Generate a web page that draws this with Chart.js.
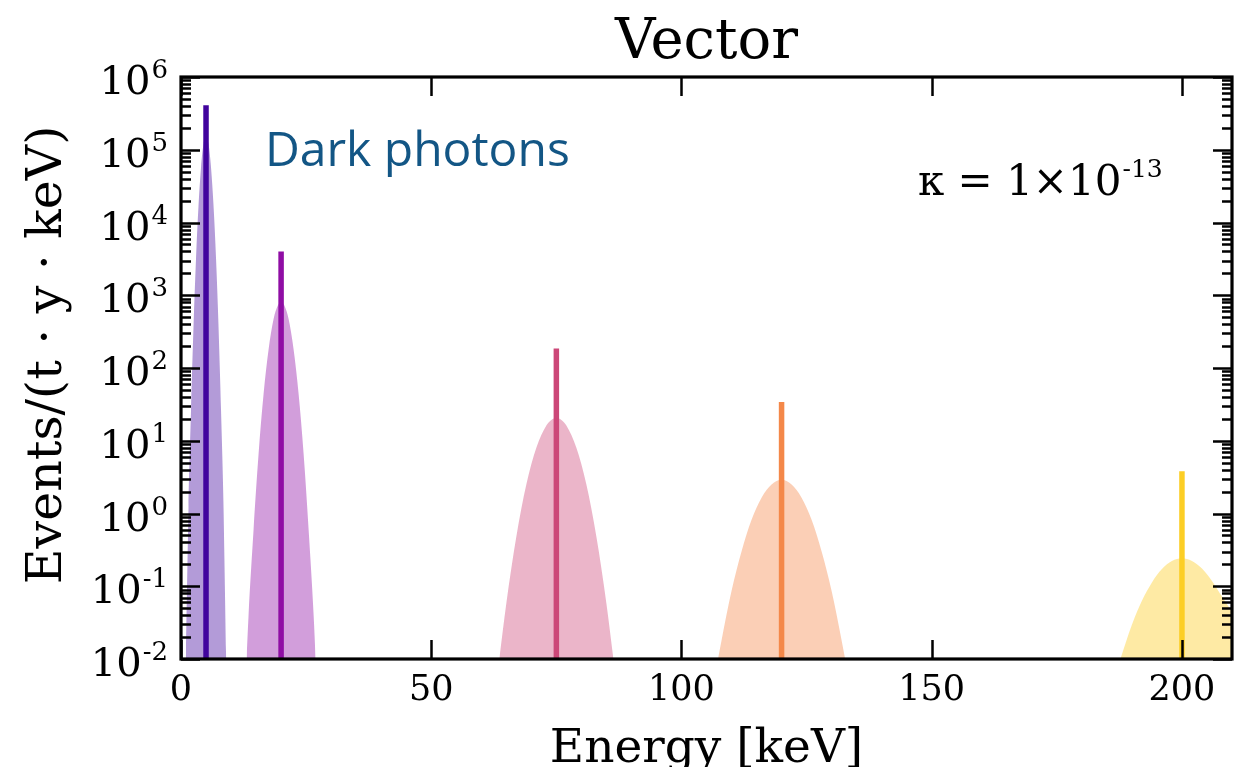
<!DOCTYPE html>
<html>
<head>
<meta charset="utf-8">
<script src="https://cdn.jsdelivr.net/npm/chart.js@4.4.0/dist/chart.umd.min.js"></script>
<style>
  html, body { margin: 0; padding: 0; background: #fff; }
</style>
</head>
<body>
<canvas id="chart" width="1255" height="767"></canvas>
<script>
// line energies (keV) and line heights
const lineEnergies = [5, 20, 75, 120, 200];
const lineHeights = [4.1e5, 4.0e3, 186, 34, 3.8];
const lineColors = ["#41049d", "#8f0da4", "#cc4778", "#f48849", "#fcce25"];
const fillColors = ["rgba(65,4,157,0.4)", "rgba(143,13,164,0.4)", "rgba(204,71,120,0.4)", "rgba(244,136,73,0.4)", "rgba(252,206,37,0.42)"];

// smeared spectra, points
const fillE1 = [0.9, 1.0, 1.5, 2.0, 2.5, 3.0, 3.5, 4.0, 4.5, 5.0, 5.5, 6.0, 6.5, 7.0, 7.5, 8.0, 8.5, 9.0, 9.1];
const fillY1 = [0.005, 0.012, 1.2, 26, 370, 3200, 1.7e4, 5.7e4, 1.2e5, 1.5e5, 1.2e5, 5.7e4, 1.7e4, 3200, 370, 26, 1.2, 0.012, 0.005];
const fillE2 = [13.1, 13.5, 14.5, 15.5, 16.5, 17.5, 18.5, 19.3, 20, 20.7, 21.5, 22.5, 23.5, 24.5, 25.5, 26.5, 26.9];
const fillY2 = [0.01, 0.04, 0.6, 6.6, 44, 180, 470, 710, 800, 710, 470, 180, 44, 6.6, 0.6, 0.04, 0.01];
const fillE3 = [63.6, 65, 67, 69, 71, 73, 74, 75, 76, 77, 79, 81, 83, 85, 86.4];
const fillY3 = [0.01, 0.058, 0.48, 2.5, 8, 16.2, 19.3, 20.5, 19.3, 16.2, 8, 2.5, 0.48, 0.058, 0.01];
const fillE4 = [107.3, 108, 110, 112, 114, 116, 118, 120, 122, 124, 126, 128, 130, 132, 132.7];
const fillY4 = [0.01, 0.018, 0.086, 0.3, 0.82, 1.65, 2.5, 2.9, 2.5, 1.65, 0.82, 0.3, 0.086, 0.018, 0.01];
const fillE5 = [187.7, 190, 192, 194, 196, 198, 200, 202, 204, 206, 208, 210, 212];
const fillY5 = [0.01, 0.0295, 0.063, 0.113, 0.173, 0.222, 0.242, 0.222, 0.175, 0.118, 0.072, 0.045, 0.027];

const xTicks = [0, 50, 100, 150, 200];
const yMajorTicks = [0.01, 0.1, 1, 10, 100, 1e3, 1e4, 1e5, 1e6];
const yTickExps = ["-2", "-1", "0", "1", "2", "3", "4", "5", "6"];

const SERIF = "'DejaVu Serif', serif";

const fillE = [fillE1, fillE2, fillE3, fillE4, fillE5];
const fillY = [fillY1, fillY2, fillY3, fillY4, fillY5];

// minor ticks 2..9 in each decade
const yTicks = [];
yMajorTicks.forEach((v, i) => {
  yTicks.push(v);
  if (i < yMajorTicks.length - 1) {
    for (let k = 2; k <= 9; k++) yTicks.push(v * k);
  }
});

function majorIndex(v) {
  return yMajorTicks.findIndex((m) => Math.abs(m - v) / m < 1e-9);
}

const datasets = [];
fillE.forEach((es, i) => {
  datasets.push({
    type: "line",
    data: es.map((e, j) => ({ x: e, y: fillY[i][j] })),
    borderWidth: 0,
    pointRadius: 0,
    backgroundColor: fillColors[i],
    fill: "start",
    cubicInterpolationMode: "monotone",
    order: 2,
  });
});
lineEnergies.forEach((e, i) => {
  datasets.push({
    type: "line",
    data: [{ x: e, y: yMajorTicks[0] }, { x: e, y: lineHeights[i] }],
    borderColor: lineColors[i],
    borderWidth: 5.5,
    borderCapStyle: "butt",
    pointRadius: 0,
    fill: false,
    order: 1,
  });
});

const frameTicks = {
  id: "frameTicks",
  afterDraw(chart) {
    const { ctx, chartArea } = chart;
    const { left, right, top, bottom } = chartArea;
    const xs = chart.scales.x;
    const ys = chart.scales.y;
    const midX = (left + right) / 2;
    ctx.save();

    // inward ticks on all four sides
    ctx.strokeStyle = "#000";
    ctx.lineWidth = 2.5;
    ctx.beginPath();
    ys.ticks.forEach((t) => {
      const py = Math.round(ys.getPixelForValue(t.value)) + 0.5;
      const len = majorIndex(t.value) >= 0 ? 19 : 10;
      ctx.moveTo(left, py); ctx.lineTo(left + len, py);
      ctx.moveTo(right, py); ctx.lineTo(right - len, py);
    });
    xs.ticks.forEach((t) => {
      const px = Math.round(xs.getPixelForValue(t.value)) + 0.5;
      ctx.moveTo(px, bottom); ctx.lineTo(px, bottom - 19);
      ctx.moveTo(px, top); ctx.lineTo(px, top + 19);
    });
    ctx.stroke();
    ctx.lineWidth = 3.2;
    ctx.strokeRect(left, top, right - left, bottom - top);

    // y tick labels as 10 with a raised exponent
    ctx.fillStyle = "#000";
    ctx.textAlign = "left";
    ctx.textBaseline = "alphabetic";
    ys.ticks.forEach((t) => {
      const i = majorIndex(t.value);
      if (i < 0) return;
      const py = ys.getPixelForValue(t.value);
      ctx.font = "40px " + SERIF;
      const wb = ctx.measureText("10").width;
      ctx.font = "26px " + SERIF;
      const we = ctx.measureText(yTickExps[i]).width;
      const x0 = left - 14 - wb - we;
      ctx.font = "40px " + SERIF;
      ctx.fillText("10", x0, py + 17);
      ctx.font = "26px " + SERIF;
      ctx.fillText(yTickExps[i], x0 + wb + 1, py + 1);
    });

    // title and axis titles
    ctx.textAlign = "center";
    ctx.font = "56px " + SERIF;
    ctx.fillText("Vector", midX, 58);
    ctx.font = "47px " + SERIF;
    ctx.fillText("Energy [keV]", midX, 762);
    ctx.save();
    ctx.translate(61, 355);
    ctx.rotate(-Math.PI / 2);
    ctx.font = "49px " + SERIF;
    ctx.fillText("Events/(t · y · keV)", 0, 0);
    ctx.restore();

    // annotations
    ctx.textAlign = "left";
    ctx.fillStyle = "#135685";
    ctx.font = "48px 'Open Sans', sans-serif";
    ctx.fillText("Dark photons", left + 84, top + 89);

    ctx.fillStyle = "#000";
    ctx.font = "42px " + SERIF;
    const base = "κ = 1×10";
    const bx = left + 737;
    const by = top + 118;
    ctx.fillText(base, bx, by);
    const w = ctx.measureText(base).width;
    ctx.font = "25px " + SERIF;
    ctx.fillText("-13", bx + w + 1, by - 18);
    ctx.restore();
  },
};

new Chart(document.getElementById("chart"), {
  data: { datasets: datasets },
  options: {
    responsive: false,
    animation: false,
    devicePixelRatio: 1,
    layout: { padding: { left: 0, right: 23, top: 77, bottom: 0 } },
    plugins: {
      legend: { display: false },
      tooltip: { enabled: false },
      title: { display: false },
    },
    scales: {
      x: {
        type: "linear",
        min: 0,
        max: 210,
        afterBuildTicks: (s) => { s.ticks = xTicks.map((v) => ({ value: v })); },
        afterFit: (s) => { s.height = 108; },
        ticks: {
          color: "#000",
          font: { family: SERIF, size: 35 },
          padding: 11,
          maxRotation: 0,
          autoSkip: false,
        },
        grid: { display: false, drawTicks: false },
        border: { display: false },
      },
      y: {
        type: "logarithmic",
        min: yMajorTicks[0],
        max: yMajorTicks[yMajorTicks.length - 1],
        afterBuildTicks: (s) => { s.ticks = yTicks.map((v) => ({ value: v })); },
        afterFit: (s) => { s.width = 181; },
        ticks: { display: false },
        grid: { display: false, drawTicks: false },
        border: { display: false },
      },
    },
  },
  plugins: [frameTicks],
});
</script>
</body>
</html>
